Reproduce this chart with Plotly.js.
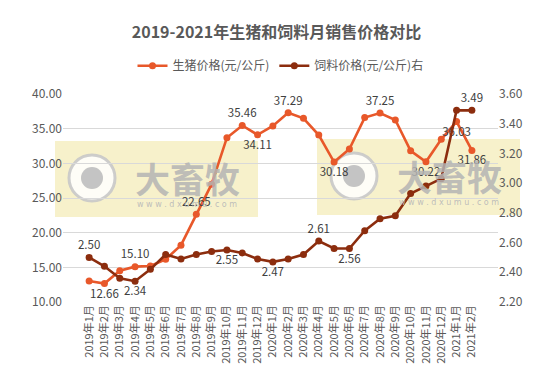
<!DOCTYPE html>
<html><head><meta charset="utf-8">
<script src="https://cdn.plot.ly/plotly-3.0.1.min.js"></script>
<style>html,body{margin:0;padding:0;background:#fff}#c{width:553px;height:380px}</style>
</head><body><div id="c"></div>
<script>
const months = ["2019年1月","2019年2月","2019年3月","2019年4月","2019年5月","2019年6月","2019年7月","2019年8月","2019年9月","2019年10月","2019年11月","2019年12月","2020年1月","2020年2月","2020年3月","2020年4月","2020年5月","2020年6月","2020年7月","2020年8月","2020年9月","2020年10月","2020年11月","2020年12月","2021年1月","2021年2月"];
const pigPrice = [13.02,12.66,14.50,15.10,15.20,16.15,18.20,22.65,27.00,33.70,35.46,34.11,35.40,37.29,36.50,34.08,30.18,32.06,36.60,37.25,36.25,31.80,30.22,33.46,36.03,31.86];
const feedPrice = [2.50,2.44,2.36,2.34,2.42,2.52,2.49,2.52,2.54,2.55,2.53,2.49,2.47,2.49,2.52,2.61,2.56,2.56,2.68,2.76,2.78,2.93,2.98,3.03,3.49,3.49];
const pigLabelIdx = [1,3,7,10,11,13,16,19,22,24,25];
const pigLabelPos = ["bottom center","top center","top center","top center","bottom center","top center","bottom center","top center","bottom center","bottom center","bottom center"];
const feedLabelIdx = [0,3,9,12,15,17,25];
const feedLabelPos = ["top center","bottom center","bottom center","bottom center","top center","bottom center","top center"];

function labels(vals, idx, pos){
  const t = vals.map(()=>""), p = vals.map(()=>"top center");
  idx.forEach((k,j)=>{ t[k] = vals[k].toFixed(2); p[k] = pos[j]; });
  return {t,p};
}
const pl = labels(pigPrice, pigLabelIdx, pigLabelPos);
const fl = labels(feedPrice, feedLabelIdx, feedLabelPos);

const FONT = "Noto Sans CJK SC, sans-serif";
const pig = {x: months, y: pigPrice, name: "生猪价格(元/公斤)", type: "scatter", mode: "lines+markers+text",
  line: {color: "#E8582A", width: 2.6}, marker: {color: "#E8582A", size: 7},
  text: pl.t, textposition: pl.p, textfont: {color: "#404040", size: 11.5, family: FONT}, cliponaxis: false};
const feed = {x: months, y: feedPrice, name: "饲料价格(元/公斤)右", type: "scatter", mode: "lines+markers+text", yaxis: "y2",
  line: {color: "#8C2D0E", width: 2.6}, marker: {color: "#8C2D0E", size: 7},
  text: fl.t, textposition: fl.p, textfont: {color: "#404040", size: 11.5, family: FONT}, cliponaxis: false};

// watermark helpers (pixel -> paper)
const L=63, R=498, T=94, B=302;
const px = v => (v-L)/(R-L), py = v => (B-v)/(B-T);
const shapes = [], ann = [];
[[55,141],[317,139]].forEach(([x0,y0])=>{
  shapes.push({type:"rect", xref:"paper", yref:"paper", x0:px(x0), x1:px(x0+203), y0:py(y0+76), y1:py(y0), fillcolor:"rgba(240,230,160,0.55)", line:{width:0}, layer:"below"});
  const cx = x0+37, cy = y0+37;
  shapes.push({type:"circle", xref:"paper", yref:"paper", x0:px(cx-23), x1:px(cx+23), y0:py(cy+23), y1:py(cy-23), fillcolor:"rgba(255,255,255,0.85)", line:{color:"rgba(200,200,200,0.9)", width:3}, layer:"below"});
  shapes.push({type:"circle", xref:"paper", yref:"paper", x0:px(cx-11), x1:px(cx+11), y0:py(cy+11), y1:py(cy-11), fillcolor:"rgba(190,190,190,0.9)", line:{width:0}, layer:"below"});
  ann.push({xref:"paper", yref:"paper", x:px(x0+132), y:py(cy-1), text:"<b>大畜牧</b>", showarrow:false, font:{family:FONT, size:35, color:"rgba(180,180,180,0.85)"}, xanchor:"center", yanchor:"middle"});
  ann.push({xref:"paper", yref:"paper", x:px(x0+132), y:py(y0+63), text:"w w w . d x u m u . c o m", showarrow:false, font:{family:"DejaVu Sans, sans-serif", size:8, color:"rgba(185,185,185,0.95)"}, xanchor:"center", yanchor:"middle"});
});

const layout = {
  width:553, height:380, margin:{l:63, r:55, t:94, b:78},
  paper_bgcolor:"#fff", plot_bgcolor:"rgba(0,0,0,0)",
  font:{family:FONT, color:"#595959"},
  title:{text:"<b>2019-2021年生猪和饲料月销售价格对比</b>", x:0.5, xanchor:"center", y:0.915, yanchor:"middle", font:{size:16, color:"#595959", family:FONT}},
  showlegend:true,
  legend:{orientation:"h", x:0.5, xanchor:"center", y:0.865, yref:"container", yanchor:"top", font:{size:12, color:"#595959", family:FONT}, traceorder:"normal"},
  xaxis:{type:"category", tickangle:-90, tickfont:{size:11, color:"#595959"}, showgrid:false, showline:false, ticks:"", zeroline:false, automargin:false},
  yaxis:{range:[10,40], dtick:5, tickformat:".2f", tickfont:{size:12, color:"#595959"}, gridcolor:"#d9d9d9", gridwidth:1, zeroline:false, showline:false, ticks:"", automargin:false},
  yaxis2:{range:[2.2,3.6], dtick:0.2, tickformat:".2f", overlaying:"y", side:"right", showgrid:false, tickfont:{size:12, color:"#595959"}, zeroline:false, showline:false, ticks:"", automargin:false},
  shapes: shapes, annotations: ann
};
Plotly.newPlot("c", [pig, feed], layout, {displayModeBar:false, staticPlot:true});
</script></body></html>
